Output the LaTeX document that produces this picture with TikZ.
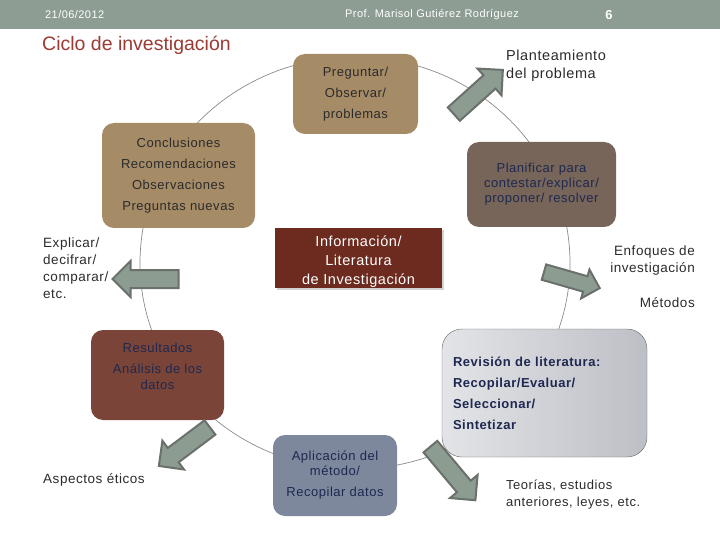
\documentclass[tikz,border=0pt]{standalone}
\usepackage{fontspec}
\setmainfont[LetterSpace=4]{Liberation Sans}
\newfontfamily\titlefont{Liberation Sans}
\usepackage{xcolor}
\usepackage{tikz}
\usetikzlibrary{shapes.arrows,shadows}

\definecolor{bandgray}{HTML}{8E9D93}
\definecolor{titlered}{HTML}{9C3A33}
\definecolor{tanbox}{HTML}{A68B67}
\definecolor{planbrown}{HTML}{776559}
\definecolor{infored}{HTML}{6D2B1F}
\definecolor{resred}{HTML}{7A4538}
\definecolor{aplblue}{HTML}{7D889D}
\definecolor{revlight}{HTML}{E3E4E7}
\definecolor{revdark}{HTML}{BDBFC6}
\definecolor{navytext}{HTML}{1E2850}
\definecolor{darktext}{HTML}{2B2B2B}
\definecolor{arrowfill}{HTML}{8C9C90}
\definecolor{arrowline}{HTML}{6A706C}
\definecolor{cyclegray}{HTML}{8A8A8A}

\begin{document}
\begin{tikzpicture}[x=1pt, y=-1pt,
  box/.style={rectangle, rounded corners=12pt, align=center, inner sep=3pt, font=\fontsize{13}{21}\selectfont},
  note/.style={inner sep=0pt, align=left, text=darktext, font=\fontsize{13.5}{17}\selectfont},
  blockarrow/.style={single arrow, draw=arrowline, fill=arrowfill, line width=2pt, inner xsep=0pt, inner ysep=8pt, single arrow head extend=9pt, minimum width=0pt}
]
\useasboundingbox (0,0) rectangle (720,540);

\fill[bandgray] (0,0) rectangle (720,29);
\node[anchor=west, inner sep=0pt, text=white, font=\fontsize{11}{13}\selectfont] (date) at (45,15) {21/06/2012};
\node[anchor=west, inner sep=0pt, text=white, font=\fontsize{11}{13}\selectfont] (author) at (345,15) {Prof. Marisol Gutiérez Rodríguez};
\node[inner sep=0pt, text=white, font=\fontsize{13}{15}\bfseries] (page) at (609,15) {6};
\node[anchor=west, inner sep=0pt, text=titlered, font=\fontsize{19.5}{22}\titlefont] (title) at (42,45) {Ciclo de investigación};

\draw[cyclegray, line width=0.7pt] (355,263) ellipse [x radius=215pt, y radius=206pt];

\node[box, fill=tanbox, text=darktext, minimum width=125pt, minimum height=80pt] (preg) at (355.5,94) {Preguntar/\\Observar/\\problemas};
\node[box, fill=tanbox, text=darktext, minimum width=153pt, minimum height=105pt] (concl) at (178.5,175.5) {Conclusiones\\Recomendaciones\\Observaciones\\Preguntas nuevas};
\node[box, fill=planbrown, text=navytext, minimum width=149pt, minimum height=85pt, font=\fontsize{13}{15}\selectfont] (plan) at (541.5,184.5) {Planificar para\\contestar/explicar/\\proponer/ resolver};
\node[rectangle, align=center, fill=infored, text=white, inner ysep=0pt, minimum width=167pt, minimum height=60pt, font=\fontsize{14.5}{19}\selectfont, drop shadow={shadow xshift=2pt, shadow yshift=-2pt, opacity=.35}] (info) at (358.5,258) {\mbox{}\\Información/\\Literatura\\de Investigación};
\node[box, fill=resred, text=navytext, minimum width=133pt, minimum height=90pt, font=\fontsize{13}{16}\selectfont] (res) at (157.5,375) {Resultados\\[5pt]Análisis de los\\datos\\[2pt]\mbox{}};
\node[box, rounded corners=20pt, left color=revlight, right color=revdark, draw=black!60, text=navytext, align=left, text width=183pt, inner xsep=11pt, minimum height=128pt, font=\fontsize{13}{21}\bfseries] (rev) at (544.5,393) {Revisión de literatura:\\Recopilar/Evaluar/\\Seleccionar/\\Sintetizar};
\node[box, fill=aplblue, text=navytext, minimum width=124pt, minimum height=81pt, font=\fontsize{13}{15}\selectfont] (apl) at (335,475.5) {Aplicación del\\método/\\[6pt]Recopilar datos};

\node[blockarrow, minimum height=66pt, rotate=42] (arrplant) at (475,95) {};
\node[blockarrow, minimum height=66pt, rotate=180] (arrexpl) at (150,279) {};
\node[blockarrow, minimum height=58pt, rotate=-16, inner ysep=7pt, single arrow head extend=7pt] (arrenf) at (568,279) {};
\node[blockarrow, minimum height=64pt, rotate=-143] (arrasp) at (188,444) {};
\node[blockarrow, minimum height=70pt, rotate=-50] (arrteo) at (450,470) {};

\node[note, anchor=west, font=\fontsize{14.5}{18}\selectfont] (plant) at (506,66) {Planteamiento\\del problema};
\node[note, anchor=west] (expl) at (43,268) {Explicar/\\decifrar/\\comparar/\\etc.};
\node[note, anchor=east, align=right] (enf) at (695,260.5) {Enfoques de\\investigación};
\node[note, anchor=east] (met) at (695,303) {Métodos};
\node[note, anchor=west] (asp) at (43,480) {Aspectos éticos};
\node[note, anchor=west, font=\fontsize{13}{17}\selectfont] (teo) at (506,494.5) {Teorías, estudios\\anteriores, leyes, etc.};
\end{tikzpicture}
\end{document}
